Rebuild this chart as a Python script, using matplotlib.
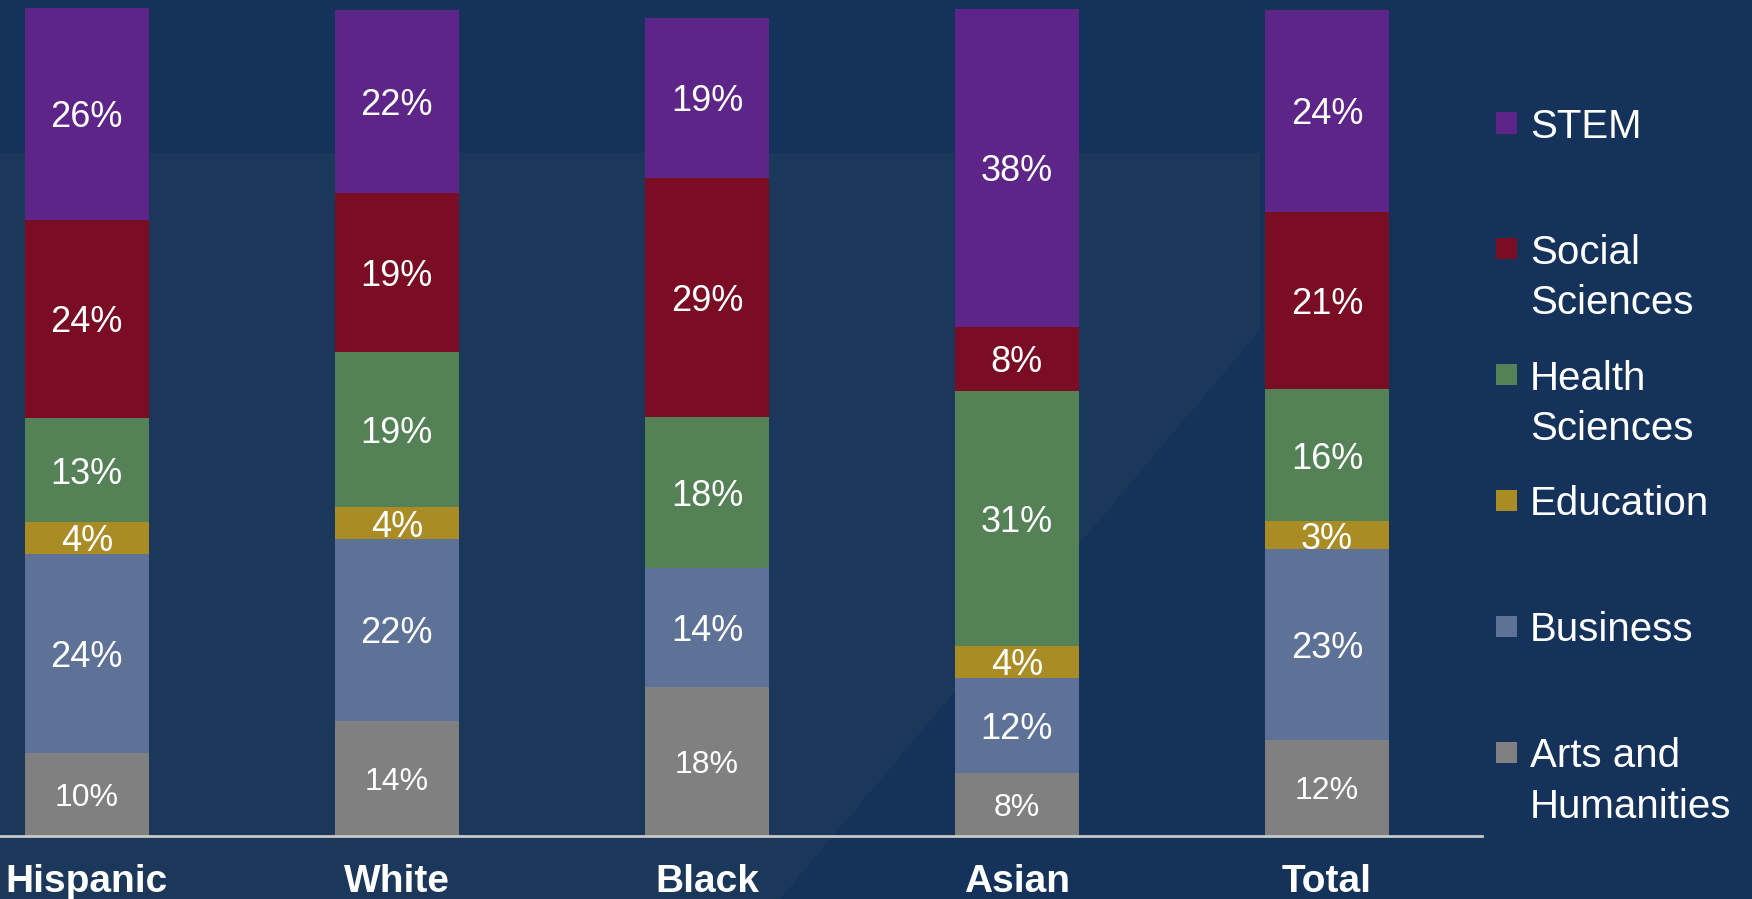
import matplotlib
matplotlib.use("Agg")
import matplotlib.pyplot as plt
from matplotlib.patches import Rectangle, Polygon

# data (percent of degrees by field, per group)
groups = ["Hispanic", "White", "Black", "Asian", "Total"]
fields = ["Arts and\nHumanities", "Business", "Education", "Health\nSciences", "Social\nSciences", "STEM"]
arts = [10.0, 13.9, 18.0, 7.6, 11.6]
business = [24.1, 22.0, 14.4, 11.5, 23.1]
education = [3.8, 3.8, 0.0, 3.9, 3.3]
health = [12.6, 18.7, 18.2, 30.8, 16.0]
social = [23.9, 19.2, 28.9, 7.7, 21.4]
stem = [25.6, 22.2, 19.3, 38.4, 24.4]
colors = ["#808080", "#5E7196", "#A98C24", "#548156", "#7A0C24", "#5E2589"]

BG = "#14325A"
W, H = 1752, 899

plt.rcParams["font.family"] = ["Liberation Sans", "DejaVu Sans"]

fig = plt.figure(figsize=(W / 100, H / 100), dpi=100, facecolor=BG)

# faint watermark tone behind the chart
wm = [(0, 153), (1260, 153), (1260, 330), (780, H), (0, H)]
fig.patches.append(Polygon([(x / W, 1 - y / H) for x, y in wm], closed=True,
                           transform=fig.transFigure, facecolor="#1B3759",
                           edgecolor="none", zorder=0))

ax = fig.add_axes([0, 1 - 836 / H, 1482 / W, 828 / H])
ax.set_facecolor("none")
ax.set_zorder(2)

series = [arts, business, education, health, social, stem]
x = list(range(len(groups)))
bottom = [0.0] * len(groups)
for i, (vals, col) in enumerate(zip(series, colors)):
    bars = ax.bar(x, vals, width=0.4, bottom=bottom, color=col, zorder=2)
    for j, (b, v) in enumerate(zip(bars, vals)):
        if v <= 0:
            continue
        size = 23 if i == 0 else 26
        ax.text(b.get_x() + b.get_width() / 2, bottom[j] + v / 2, f"{v:.0f}%",
                ha="center", va="center_baseline", color="white", fontsize=size, zorder=3)
    bottom = [b0 + v for b0, v in zip(bottom, vals)]

ax.set_xlim(-0.28, 4.5)
ax.set_ylim(0, 100)
ax.set_yticks([])
ax.set_xticks(x)
ax.set_xticklabels(groups, fontsize=28, fontweight="bold", color="white")
ax.tick_params(axis="x", length=0, pad=20)
for side in ["top", "left", "right"]:
    ax.spines[side].set_visible(False)
ax.spines["bottom"].set_color("#C8C8C8")
ax.spines["bottom"].set_linewidth(2)
ax.spines["bottom"].set_zorder(4)

# legend drawn by hand: STEM on top, marker beside the first line of each label
top_c, step, sq = 123, 125.8, 21
for k, (name, col) in enumerate(zip(fields[::-1], colors[::-1])):
    yc = top_c + k * step
    fig.patches.append(Rectangle((1496 / W, 1 - (yc + sq / 2) / H), sq / W, sq / H,
                                 transform=fig.transFigure, facecolor=col,
                                 edgecolor="none", zorder=3))
    fig.text(1530 / W, 1 - (yc - 15) / H, name, color="white", fontsize=29,
             ha="left", va="top", linespacing=1.42, zorder=3)

fig.savefig("out.png", dpi=100, facecolor=BG)
